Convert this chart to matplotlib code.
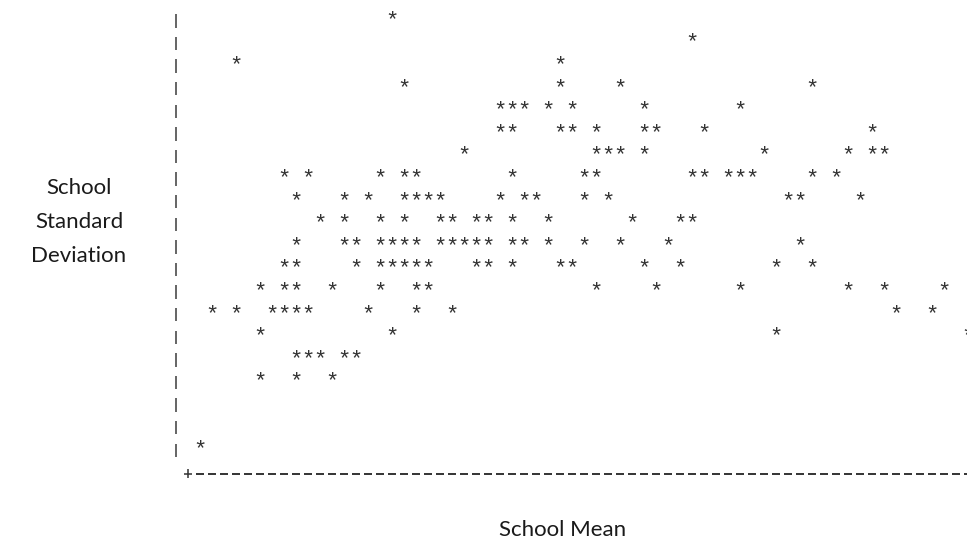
import matplotlib
matplotlib.use("Agg")
import matplotlib.pyplot as plt

# one entry per school: character column of the school mean and
# text row (1 = lowest) of the school standard deviation
school_mean = [
    18,
    43,
    5, 32,
    19, 32, 37, 53,
    27, 28, 29, 31, 33, 39, 47,
    27, 28, 32, 33, 35, 39, 40, 44, 58,
    24, 35, 36, 37, 39, 49, 56, 58, 59,
    9, 11, 17, 19, 20, 28, 34, 35, 43, 44, 46, 47, 48, 53, 55,
    10, 14, 16, 19, 20, 21, 22, 27, 29, 30, 34, 36, 51, 52, 57,
    12, 14, 17, 19, 22, 23, 25, 26, 28, 31, 38, 42, 43,
    10, 14, 15, 17, 18, 19, 20, 22, 23, 24, 25, 26, 28, 29, 31, 34, 37, 41, 52,
    9, 10, 15, 17, 18, 19, 20, 21, 25, 26, 28, 32, 33, 39, 42, 50, 53,
    7, 9, 10, 13, 17, 20, 21, 35, 40, 47, 56, 59, 64,
    3, 5, 8, 9, 10, 11, 16, 20, 23, 60, 63,
    7, 18, 50, 66,
    10, 11, 12, 14, 15,
    7, 10, 13,
    2,
]
school_sd = [
    20,
    19,
    18, 18,
    17, 17, 17, 17,
    16, 16, 16, 16, 16, 16, 16,
    15, 15, 15, 15, 15, 15, 15, 15, 15,
    14, 14, 14, 14, 14, 14, 14, 14, 14,
    13, 13, 13, 13, 13, 13, 13, 13, 13, 13, 13, 13, 13, 13, 13,
    12, 12, 12, 12, 12, 12, 12, 12, 12, 12, 12, 12, 12, 12, 12,
    11, 11, 11, 11, 11, 11, 11, 11, 11, 11, 11, 11, 11,
    10, 10, 10, 10, 10, 10, 10, 10, 10, 10, 10, 10, 10, 10, 10, 10, 10, 10, 10,
    9, 9, 9, 9, 9, 9, 9, 9, 9, 9, 9, 9, 9, 9, 9, 9, 9,
    8, 8, 8, 8, 8, 8, 8, 8, 8, 8, 8, 8, 8,
    7, 7, 7, 7, 7, 7, 7, 7, 7, 7, 7,
    6, 6, 6, 6,
    5, 5, 5, 5, 5,
    4, 4, 4,
    1,
]

n_rows = 20
n_cols = 66

W, H = 967, 542
col_w = 12.0     # px per character
row_h = 22.6     # px per text line
x0 = 176         # px of column 0
y0 = 469         # px of row 0 (the axis line)

fig = plt.figure(figsize=(W / 100, H / 100), dpi=100)
ax = fig.add_axes([0, 0, 1, 1])
ax.set_xlim(-x0 / col_w, (W - x0) / col_w)
ax.set_ylim((y0 - H) / row_h, y0 / row_h)
ax.axis("off")

ink = "#333333"

# vertical axis, one '|' per text line
for lev in range(1, n_rows + 1):
    ax.vlines(0, lev - 0.47, lev + 0.12, color="#4a4a4a", lw=1.2)

# horizontal axis: '+' then dashes
ax.hlines(-0.22, 1 - 0.36, 1 + 0.36, color=ink, lw=1.1)
ax.vlines(1, -0.22 - 0.2, -0.22 + 0.2, color=ink, lw=1.1)
for c in range(2, n_cols + 1):
    ax.hlines(-0.22, c - 0.34, c + 0.34, color=ink, lw=1.4)

# the schools (glyph sits high, so nudge it down to the line centre)
for m, s in zip(school_mean, school_sd):
    ax.text(m, s - 0.15, "*", ha="center", va="center", fontsize=16,
            family="Liberation Mono", color=ink)

label_font = dict(family="Lato", fontsize=16, color="#1a1a1a")
fig.text(79 / W, 1 - 222 / H, "School\nStandard\nDeviation", ha="center",
         va="center", linespacing=1.88, **label_font)
fig.text(563 / W, 1 - 530 / H, "School Mean", ha="center", va="center",
         **label_font)

fig.savefig("out.png", dpi=100)
